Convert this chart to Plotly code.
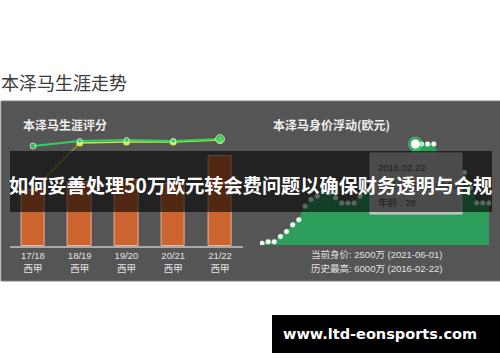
import plotly.graph_objects as go

W, H = 500, 362


def px(x):
    return x / W


def py(y):
    return 1 - y / H


# ---------------- data ----------------
seasons = ["17/18", "18/19", "19/20", "20/21", "21/22"]
league = ["西甲", "西甲", "西甲", "西甲", "西甲"]
bar_values = [28, 32, 33, 31, 45]
rating_green = [86.2, 90.5, 91.4, 90.5, 92.2]
rating_yellow = [48.3, 88.8, 89.7, 89.7, 91.4]

market_value = [100, 200, 200, 500, 800, 1200, 1500, 2300, 2700, 2900,
                3200, 3100, 2800, 2500, 2500, 2500, 2900, 3200, 3400, 3700,
                3900, 4200, 4400, 4700, 5000, 6000, 6000, 6000, 6000, 5000,
                4800, 4600, 4500, 4300, 3400, 2500, 2500, 2500]

page_title = "本泽马生涯走势"
left_title = "本泽马生涯评分"
right_title = "本泽马身价浮动(欧元)"
current_text = "当前身价: 2500万 (2021-06-01)"
peak_text = "历史最高: 6000万 (2016-02-22)"
tip_lines = ["2016.02.22", "本泽马  身价: 6000万", "年龄 : 28"]
headline = "如何妥善处理50万欧元转会费问题以确保财务透明与合规"
watermark = "www.ltd-eonsports.com"

CJK = "Noto Sans CJK SC"
SANS = "Liberation Sans, Noto Sans CJK SC"

fig = go.Figure()

# ---------- left chart ----------
xi = list(range(len(seasons)))
fig.add_trace(go.Bar(
    x=xi, y=bar_values, width=0.5,
    marker=dict(color="rgb(204,100,48)", line=dict(color="rgb(236,178,156)", width=1)),
    xaxis="x", yaxis="y", showlegend=False, hoverinfo="skip"))

fig.add_trace(go.Scatter(
    x=xi[:2], y=rating_yellow[:2], mode="lines",
    line=dict(color="rgb(150,150,50)", width=1.3),
    xaxis="x", yaxis="y2", showlegend=False, hoverinfo="skip"))
fig.add_trace(go.Scatter(
    x=xi[1:], y=rating_yellow[1:], mode="lines+markers",
    line=dict(color="rgb(225,225,70)", width=1.5),
    marker=dict(size=7, color="rgb(225,225,70)"),
    xaxis="x", yaxis="y2", showlegend=False, hoverinfo="skip"))
fig.add_trace(go.Scatter(
    x=xi, y=rating_green, mode="lines+markers",
    line=dict(color="rgb(40,215,90)", width=2),
    marker=dict(size=[6, 5, 5, 5, 9], color="rgb(40,215,90)"),
    xaxis="x", yaxis="y2", showlegend=False, hoverinfo="skip"))

# ---------- right chart ----------
mi = list(range(len(market_value)))
fig.add_trace(go.Scatter(
    x=mi, y=market_value, mode="lines+markers", fill="tozeroy",
    fillcolor="rgb(46,158,92)",
    line=dict(color="rgb(46,158,92)", width=1),
    marker=dict(size=5, color="white", line=dict(color="rgb(120,220,150)", width=0.5)),
    xaxis="x3", yaxis="y3", showlegend=False, hoverinfo="skip"))
peak = max(market_value)
pk = market_value.index(peak)
fig.add_trace(go.Scatter(
    x=[pk], y=[peak], mode="markers",
    marker=dict(size=15, color="rgba(60,230,120,0.55)"),
    xaxis="x3", yaxis="y3", showlegend=False, hoverinfo="skip"))
fig.add_trace(go.Scatter(
    x=[pk], y=[peak], mode="markers",
    marker=dict(size=9, color="white"),
    xaxis="x3", yaxis="y3", showlegend=False, hoverinfo="skip"))

# axes
fig.update_layout(
    xaxis=dict(domain=[px(9.6), px(243.4)], range=[-0.5, 4.5],
               tickvals=xi, ticktext=[f"{s}<br>{l}" for s, l in zip(seasons, league)],
               tickfont=dict(family=SANS, size=9.5, color="rgb(225,225,225)"),
               showline=True, linecolor="rgb(170,170,170)", linewidth=2,
               showgrid=False, zeroline=False, ticks="", fixedrange=True),
    yaxis=dict(domain=[py(246), py(130)], range=[0, 58], visible=False),
    yaxis2=dict(domain=[py(246), py(130)], range=[0, 100], visible=False,
                overlaying="y"),
    xaxis3=dict(domain=[px(260), px(491)], range=[-0.33, len(market_value) - 1 + 0.33],
                visible=False, anchor="y3"),
    yaxis3=dict(domain=[py(245), py(245 - 7000 * 101 / 6000)], range=[0, 7000],
                visible=False, anchor="x3"),
)

shapes = [
    # gray panel
    dict(type="rect", xref="paper", yref="paper", x0=px(1), x1=px(501), y0=py(101), y1=py(281),
         fillcolor="rgb(85,85,85)", line=dict(color="rgb(125,125,125)", width=1), layer="below"),
    # tooltip box
    dict(type="rect", xref="paper", yref="paper", x0=px(370), x1=px(462), y0=py(153), y1=py(214),
         fillcolor="rgb(188,188,188)", line=dict(color="rgb(205,205,205)", width=1), layer="above"),
    # dark band
    dict(type="rect", xref="paper", yref="paper", x0=px(10), x1=px(492), y0=py(151), y1=py(212),
         fillcolor="rgba(0,0,0,0.6)", line=dict(width=0), layer="above"),
    # watermark box
    dict(type="rect", xref="paper", yref="paper", x0=px(272), x1=px(500), y0=py(315), y1=py(353),
         fillcolor="black", line=dict(width=0), layer="above"),
]

ann = []


def text(t, x, y, size, color, family=CJK, anchor="left", bold=False):
    ann.append(dict(text=f"<b>{t}</b>" if bold else t, x=px(x), y=py(y), xref="paper", yref="paper",
                    xanchor=anchor, yanchor="middle", showarrow=False,
                    font=dict(family=family, size=size, color=color)))


text(page_title, -1, 82, 18, "rgb(60,60,60)")
text(left_title, 21, 125, 12, "rgb(238,238,238)", bold=True)
text(right_title, 271, 125, 12, "rgb(238,238,238)", bold=True)
text(current_text, 376, 254, 9.5, "rgb(225,225,225)", family=SANS, anchor="center")
text(peak_text, 376, 268, 9.5, "rgb(225,225,225)", family=SANS, anchor="center")
for i, t in enumerate(tip_lines):
    text(t, 376, 168 + 17 * i, 9.5, "rgb(30,30,30)", family=SANS)
text(headline, 250, 185, 19.2, "white", anchor="center", bold=True)
text(watermark, 380, 334, 14.5, "white", family="DejaVu Sans", anchor="center", bold=True)

fig.update_layout(
    width=W, height=H, margin=dict(l=0, r=0, t=0, b=0),
    paper_bgcolor="white", plot_bgcolor="rgba(0,0,0,0)",
    shapes=shapes, annotations=ann, showlegend=False, bargap=0,
)

fig.write_html("out.html", config={"displayModeBar": False},
               post_script="document.body.style.margin='0';")
